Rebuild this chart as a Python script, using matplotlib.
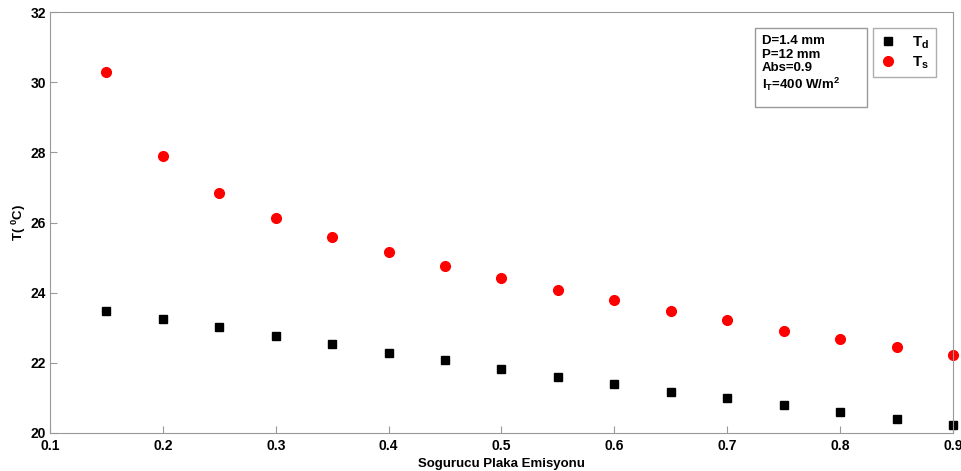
import matplotlib
matplotlib.use('Agg')
import matplotlib.pyplot as plt
from matplotlib.patches import Rectangle

# Emission of absorber plate vs temperatures
emisyon = [0.15, 0.2, 0.25, 0.3, 0.35, 0.4, 0.45, 0.5, 0.55, 0.6, 0.65, 0.7, 0.75, 0.8, 0.85, 0.9]
t_d = [23.48, 23.25, 23.02, 22.76, 22.54, 22.28, 22.08, 21.82, 21.60, 21.40, 21.17, 21.00, 20.80, 20.60, 20.40, 20.23]
t_s = [30.29, 27.90, 26.84, 26.13, 25.59, 25.16, 24.76, 24.42, 24.08, 23.79, 23.48, 23.22, 22.91, 22.68, 22.45, 22.22]
x_ticks = [0.1, 0.2, 0.3, 0.4, 0.5, 0.6, 0.7, 0.8, 0.9]
y_ticks = [20, 22, 24, 26, 28, 30, 32]

plt.rcParams['font.family'] = 'Liberation Sans'
plt.rcParams['font.weight'] = 'bold'

fig = plt.figure(figsize=(9.62, 4.71), dpi=100)
ax = fig.add_axes([0.052, 0.0807, 0.9386, 0.8938])

ax.plot(emisyon, t_d, 's', color='black', markersize=6, label='T$_\\mathregular{d}$', clip_on=False)
ax.plot(emisyon, t_s, 'o', color='red', markersize=7, label='T$_\\mathregular{s}$', clip_on=False)

ax.set_xlim(0.1, 0.9)
ax.set_ylim(20, 32)
ax.set_xticks(x_ticks)
ax.set_yticks(y_ticks)
ax.set_xticklabels([f'{v:.1f}' for v in x_ticks])
ax.tick_params(direction='in', length=5, color='#999999', labelsize=10)
ax.tick_params(axis='x', pad=4)
ax.tick_params(axis='y', pad=3)
for s in ax.spines.values():
    s.set_color('#999999')

ax.set_xlabel('Sogurucu Plaka Emisyonu', fontsize=9.5, fontweight='bold', labelpad=4)
ax.set_ylabel('T( $^\\mathregular{0}$C)', fontsize=9.5, fontweight='bold', labelpad=2)

# parameter box
ax.add_patch(Rectangle((0.781, 0.775), 0.124, 0.187, transform=ax.transAxes,
                       facecolor='white', edgecolor='#999999', lw=1.0, zorder=4))
ax.text(0.7885, 0.945, 'D=1.4 mm\nP=12 mm\nAbs=0.9\nI$_\\mathregular{T}$=400 W/m$^\\mathregular{2}$',
        transform=ax.transAxes, fontsize=9.5, fontweight='bold', va='top', ha='left',
        linespacing=1.15, zorder=5)

leg = ax.legend(loc='upper left', bbox_to_anchor=(0.911, 0.962), fontsize=11,
                fancybox=False, edgecolor='#999999', markerfirst=True,
                handletextpad=1.0, borderpad=0.4, handlelength=1.2, labelspacing=0.25,
                borderaxespad=0)
leg.get_frame().set_linewidth(1.0)

fig.savefig('out.png', dpi=100)
